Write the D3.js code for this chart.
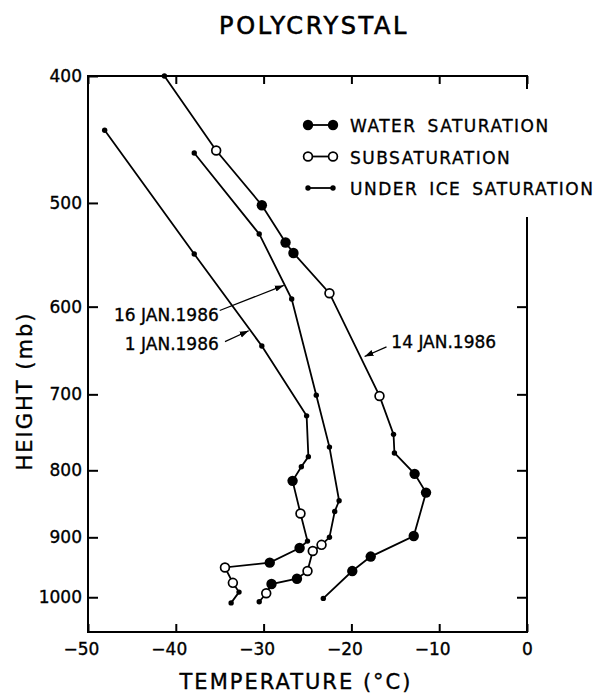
<!DOCTYPE html>
<html>
<head>
<meta charset="utf-8">
<script src="https://cdn.jsdelivr.net/npm/d3@7"></script>
<style>
body { margin: 0; background: #fff; }
svg { display: block; font-family: 'DejaVu Sans', sans-serif; }
svg text { stroke: #000; stroke-width: 0.35px; }
</style>
</head>
<body>
<div id="chart"></div>
<script>
var xTicks = [-50, -40, -30, -20, -10, 0];
var yTicks = [400, 500, 600, 700, 800, 900, 1000];

// W = water saturation, S = subsaturation, I = under ice saturation
var jan14Temp = [-41.3, -35.4, -30.2, -27.5, -26.6, -22.5, -16.8, -15.2, -15.1, -12.8, -11.5, -12.9, -17.8, -19.9, -23.2];
var jan14Pres = [400, 456, 502, 536, 546, 586, 702, 751, 776, 805, 832, 898, 931, 955, 1002];
var jan14Type = ['I', 'S', 'W', 'W', 'W', 'S', 'S', 'I', 'I', 'W', 'W', 'W', 'W', 'W', 'I'];

var jan16Temp = [-37.9, -30.5, -26.8, -24.0, -22.5, -21.4, -21.9, -22.5, -23.4, -24.4, -25.0, -26.2, -29.1, -29.7, -30.5];
var jan16Pres = [458, 528, 592, 701, 768, 844, 860, 900, 912, 922, 955, 968, 977, 993, 1008];
var jan16Type = ['I', 'I', 'I', 'I', 'I', 'I', 'I', 'I', 'S', 'S', 'S', 'W', 'W', 'S', 'I'];

var jan1Temp = [-48.1, -37.9, -30.2, -25.1, -24.9, -25.7, -26.7, -25.8, -25.0, -25.9, -29.3, -34.4, -33.5, -32.8, -33.7];
var jan1Pres = [440, 547, 643, 727, 781, 795, 815, 863, 906, 917, 941, 949, 975, 991, 1010];
var jan1Type = ['I', 'I', 'I', 'I', 'I', 'I', 'W', 'S', 'I', 'W', 'W', 'S', 'S', 'I', 'I'];

var legendTypes = ['W', 'S', 'I'];
var legendLabels = ['WATER SATURATION', 'SUBSATURATION', 'UNDER ICE SATURATION'];

// date labels with arrows pointing at their curve (data units)
var noteText = ['14 JAN.1986', '16 JAN.1986', '1 JAN.1986'];
var noteTemp = [-15.45, -35.1, -35.1];
var notePres = [645, 615, 648];
var noteAnchor = ['start', 'end', 'end'];
var arrowFromTemp = [-16.0, -35.0, -34.4];
var arrowFromPres = [644, 604, 638];
var arrowToTemp = [-18.5, -27.7, -31.7];
var arrowToPres = [655, 578, 626];

var width = 603, height = 695;
var plotLeft = 88, plotRight = 527, plotTop = 76, plotBottom = 632;

var svg = d3.select('#chart').append('svg')
    .attr('width', width)
    .attr('height', height);

var x = d3.scaleLinear().domain([-50, 0]).range([plotLeft, plotRight]);
var y = d3.scaleLog().domain([400, 1063]).range([plotTop, plotBottom]);

svg.append('defs').append('marker')
    .attr('id', 'head')
    .attr('viewBox', '0 0 10 10')
    .attr('refX', 10)
    .attr('refY', 5)
    .attr('markerWidth', 9)
    .attr('markerHeight', 9)
    .attr('markerUnits', 'userSpaceOnUse')
    .attr('orient', 'auto')
    .append('path')
    .attr('d', 'M0,1.5L10,5L0,8.5Z')
    .attr('fill', '#000');

// axes, ticks pointing inwards
var fmt = function(d) {
    return d < 0 ? '\u2212' + Math.abs(d) : d;
};

var xb = svg.append('g')
    .attr('transform', 'translate(0,' + plotBottom + ')')
    .call(d3.axisBottom(x).tickValues(xTicks).tickFormat(fmt).tickSizeInner(-8).tickSizeOuter(0).tickPadding(11));
xb.selectAll('text').attr('dx', function(d) { return d < 0 ? '-7px' : 0; });

var xt = svg.append('g')
    .attr('transform', 'translate(0,' + plotTop + ')')
    .call(d3.axisTop(x).tickValues(xTicks).tickFormat('').tickSizeInner(-8).tickSizeOuter(0));

var yl = svg.append('g')
    .attr('transform', 'translate(' + plotLeft + ',0)')
    .call(d3.axisLeft(y).tickValues(yTicks).tickFormat(d3.format('d')).tickSizeInner(-10).tickSizeOuter(0).tickPadding(6));

var yr = svg.append('g')
    .attr('transform', 'translate(' + plotRight + ',0)')
    .call(d3.axisRight(y).tickValues([600, 700, 800, 900, 1000]).tickFormat('').tickSizeInner(-10).tickSizeOuter(0));

[xb, xt, yl, yr].forEach(function(g) {
    g.select('.domain').remove();
    g.selectAll('line').attr('stroke', '#000').attr('stroke-width', 2);
    g.selectAll('text').attr('fill', '#000').style('font-size', '17px').style('font-family', 'DejaVu Sans');
});

// frame, right side is broken where the legend sits
var gapTop = 88, gapBottom = 218;
var frame = [
    [plotLeft, plotTop, plotRight, plotTop],
    [plotLeft, plotTop, plotLeft, plotBottom],
    [plotLeft, plotBottom, plotRight, plotBottom],
    [plotRight, plotTop, plotRight, gapTop],
    [plotRight, gapBottom, plotRight, plotBottom]
];
svg.append('g').selectAll('line')
    .data(frame)
    .enter().append('line')
    .attr('x1', function(d) { return d[0]; })
    .attr('y1', function(d) { return d[1]; })
    .attr('x2', function(d) { return d[2]; })
    .attr('y2', function(d) { return d[3]; })
    .attr('stroke', '#000')
    .attr('stroke-width', 2)
    .attr('stroke-linecap', 'square');

function drawMarker(sel, type) {
    if (type === 'W') {
        sel.attr('r', 5.2).attr('fill', '#000').attr('stroke', 'none');
    } else if (type === 'S') {
        sel.attr('r', 4.4).attr('fill', '#fff').attr('stroke', '#000').attr('stroke-width', 1.7);
    } else {
        sel.attr('r', 2.7).attr('fill', '#000').attr('stroke', 'none');
    }
}

var series = [
    [jan14Temp, jan14Pres, jan14Type],
    [jan16Temp, jan16Pres, jan16Type],
    [jan1Temp, jan1Pres, jan1Type]
];

var line = d3.line()
    .x(function(d) { return x(d.t); })
    .y(function(d) { return y(d.p); });

series.forEach(function(s) {
    var pts = s[0].map(function(t, i) {
        return { t: t, p: s[1][i], type: s[2][i] };
    });

    svg.append('path')
        .datum(pts)
        .attr('d', line)
        .attr('fill', 'none')
        .attr('stroke', '#000')
        .attr('stroke-width', 1.8);

    svg.append('g').selectAll('circle')
        .data(pts)
        .enter().append('circle')
        .attr('cx', function(d) { return x(d.t); })
        .attr('cy', function(d) { return y(d.p); })
        .each(function(d) { drawMarker(d3.select(this), d.type); });
});

// date labels
noteText.forEach(function(txt, i) {
    svg.append('line')
        .attr('x1', x(arrowFromTemp[i]))
        .attr('y1', y(arrowFromPres[i]))
        .attr('x2', x(arrowToTemp[i]))
        .attr('y2', y(arrowToPres[i]))
        .attr('stroke', '#000')
        .attr('stroke-width', 1.2)
        .attr('marker-end', 'url(#head)');

    svg.append('text')
        .attr('x', x(noteTemp[i]))
        .attr('y', y(notePres[i]))
        .attr('text-anchor', noteAnchor[i])
        .style('font-size', '17px')
        .text(txt);
});

// legend
var legend = svg.append('g').attr('transform', 'translate(308,125)');
legendTypes.forEach(function(type, i) {
    var row = legend.append('g').attr('transform', 'translate(0,' + (i * 31.5) + ')');
    row.append('line')
        .attr('x1', 0).attr('x2', 25)
        .attr('stroke', '#000')
        .attr('stroke-width', 1.8);
    [0, 25].forEach(function(cx) {
        drawMarker(row.append('circle').attr('cx', cx).attr('cy', 0), type);
    });
    row.append('text')
        .attr('x', 42)
        .attr('y', 7)
        .style('font-size', '17px')
        .style('letter-spacing', '1.5px')
        .style('word-spacing', '4px')
        .text(legendLabels[i]);
});

// titles
svg.append('text')
    .attr('x', 314)
    .attr('y', 34)
    .attr('text-anchor', 'middle')
    .style('font-size', '24px')
    .style('letter-spacing', '2.6px')
    .style('stroke-width', '0.6px')
    .text('POLYCRYSTAL');

svg.append('text')
    .attr('x', 296)
    .attr('y', 689)
    .attr('text-anchor', 'middle')
    .style('font-size', '21px')
    .style('letter-spacing', '2px')
    .text('TEMPERATURE (\u00B0C)');

svg.append('text')
    .attr('transform', 'translate(32,391) rotate(-90)')
    .attr('text-anchor', 'middle')
    .style('font-size', '21px')
    .style('letter-spacing', '2px')
    .text('HEIGHT (mb)');
</script>
</body>
</html>
